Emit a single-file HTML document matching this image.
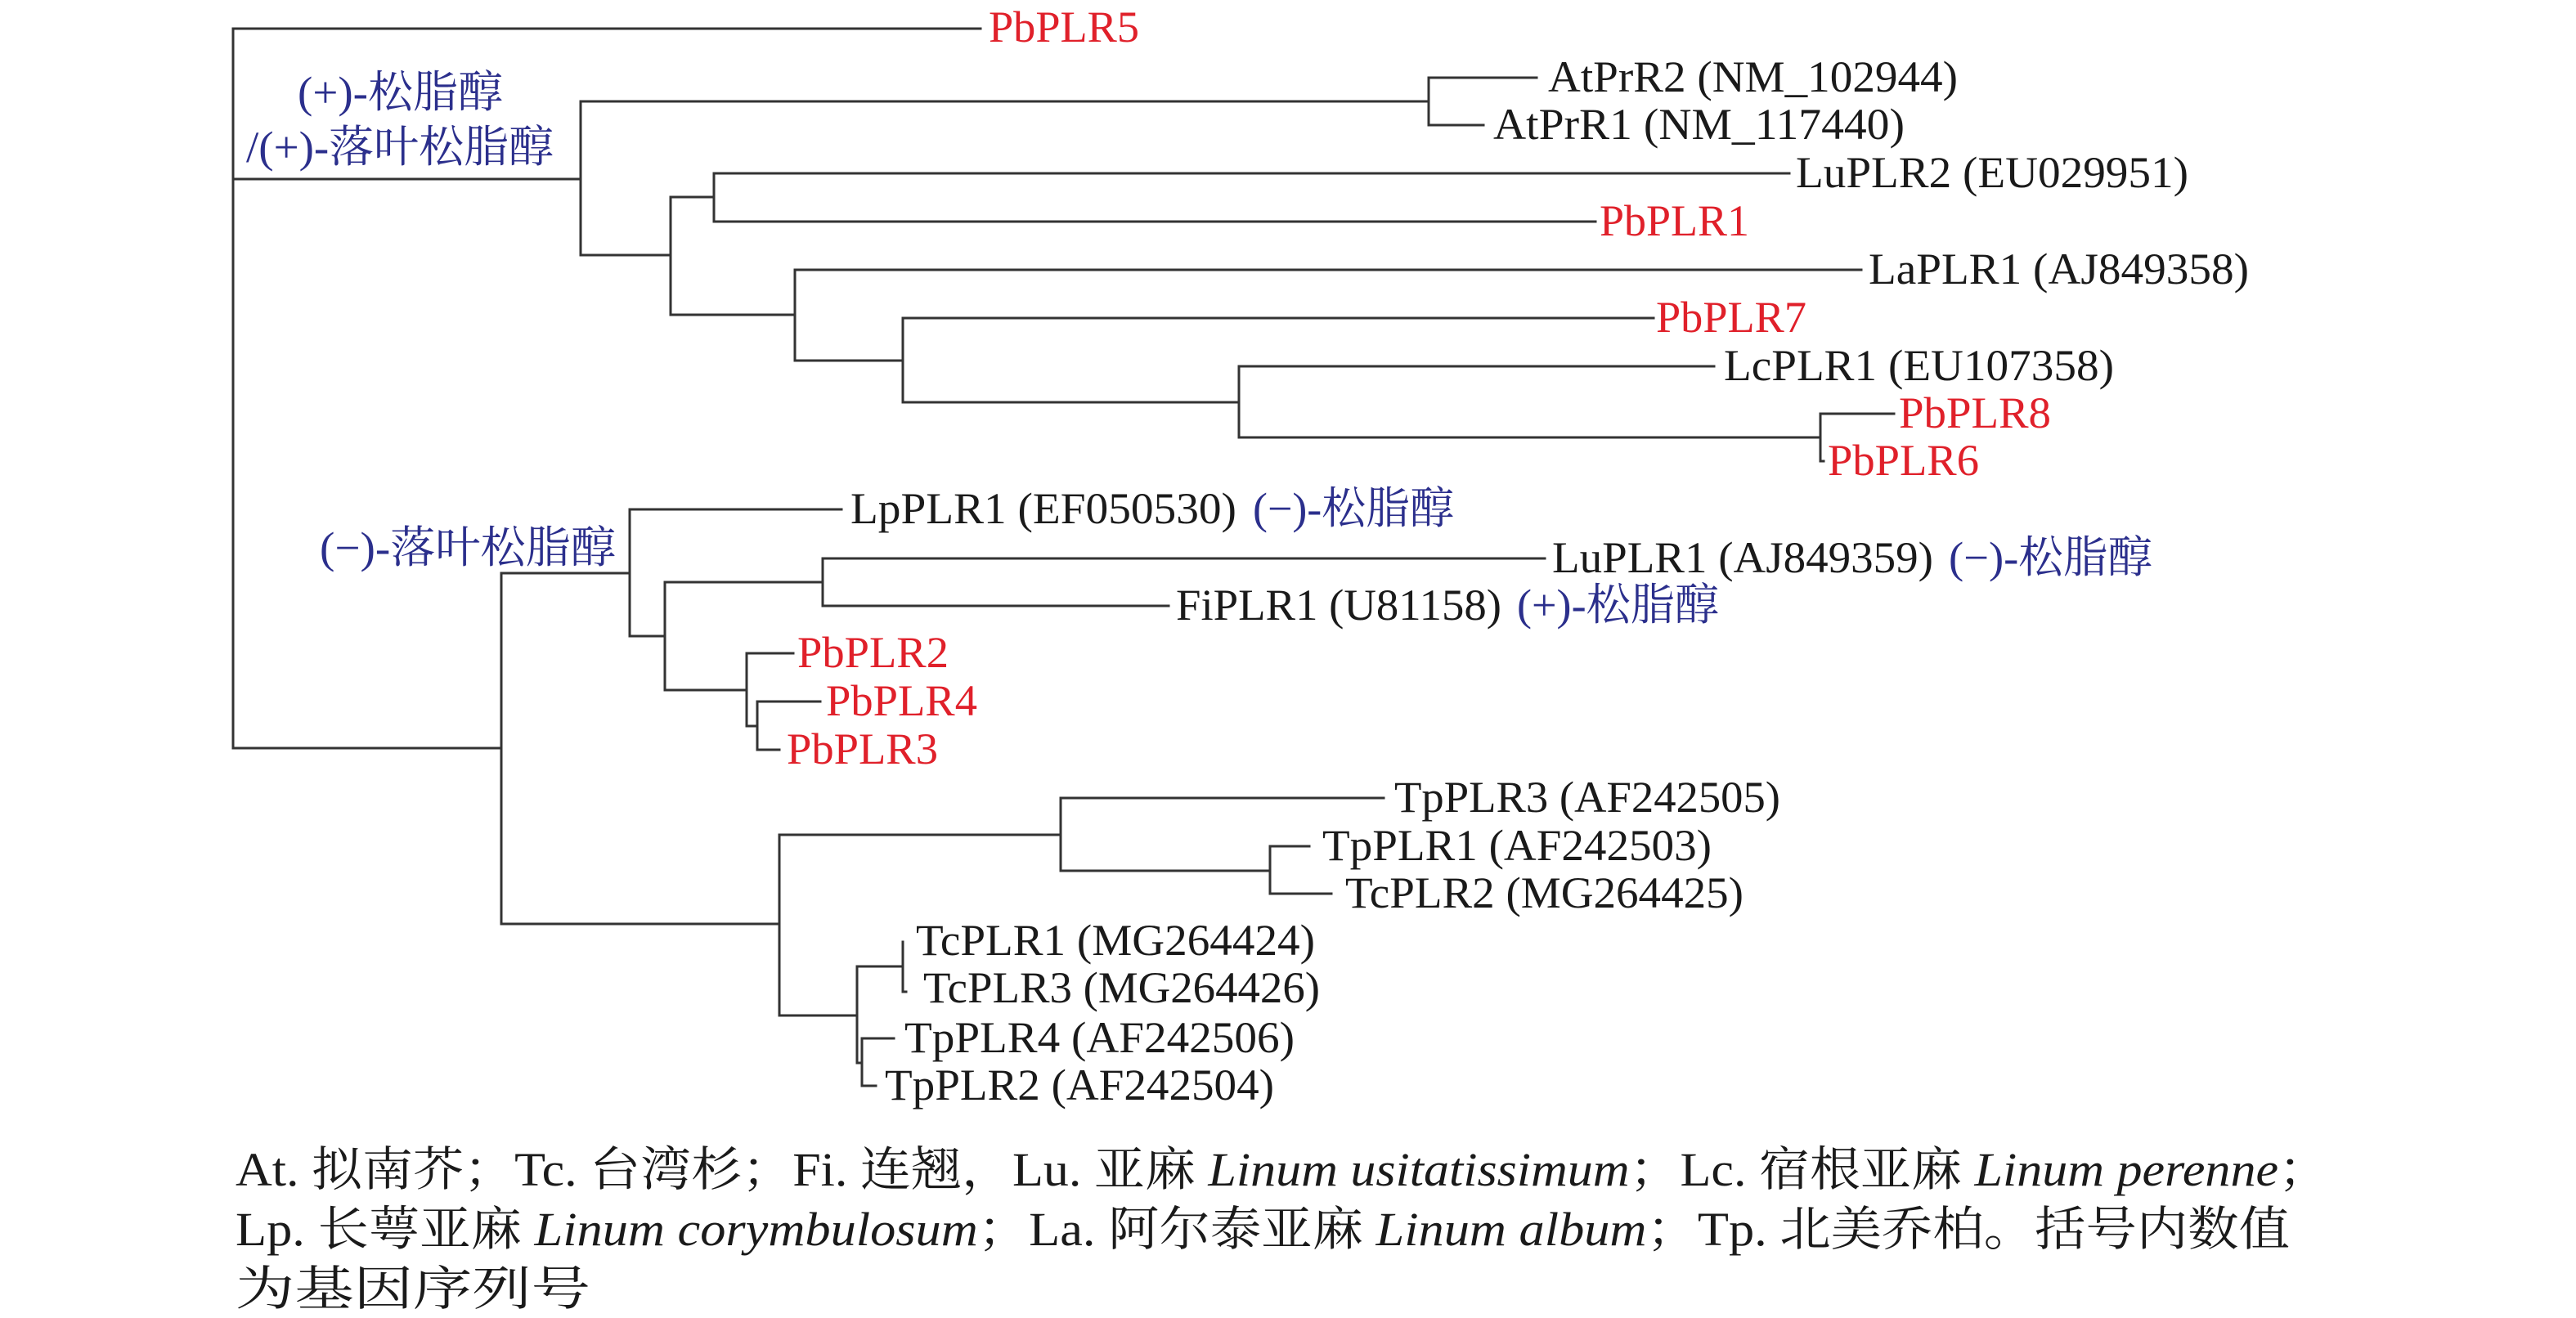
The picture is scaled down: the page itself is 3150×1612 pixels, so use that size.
<!DOCTYPE html>
<html><head><meta charset="utf-8"><style>
html,body{margin:0;padding:0;background:#fff;}
svg{display:block;}
text{font-family:"Liberation Serif","Noto Serif CJK SC","Noto Sans CJK SC",serif;font-size:54px;fill:#1a1a1a;}
.r{fill:#e0202a;}
.b{fill:#2b2f8c;}
.i{font-style:italic;}
</style></head><body>
<svg width="3150" height="1612" viewBox="0 0 3150 1612" xmlns="http://www.w3.org/2000/svg">
<g stroke="#333" stroke-width="3" fill="none" stroke-linecap="square">
<path d="M285 35V915"/>
<path d="M285 35H1199"/>
<path d="M285 219H710"/>
<path d="M710 124V312"/>
<path d="M710 124H1747"/>
<path d="M1747 95V153"/>
<path d="M1747 95H1879"/>
<path d="M1747 153H1814"/>
<path d="M710 312H820"/>
<path d="M820 241V385"/>
<path d="M820 241H873"/>
<path d="M873 212V271"/>
<path d="M873 212H2188"/>
<path d="M873 271H1951"/>
<path d="M820 385H972"/>
<path d="M972 330V441"/>
<path d="M972 330H2276"/>
<path d="M972 441H1104"/>
<path d="M1104 389V492"/>
<path d="M1104 389H2022"/>
<path d="M1104 492H1515"/>
<path d="M1515 448V535"/>
<path d="M1515 448H2096"/>
<path d="M1515 535H2226"/>
<path d="M2226 506V564"/>
<path d="M2226 506H2316"/>
<path d="M2226 564H2230"/>
<path d="M285 915H613"/>
<path d="M613 701V1130"/>
<path d="M613 701H770"/>
<path d="M770 623V778"/>
<path d="M770 623H1029"/>
<path d="M770 778H813"/>
<path d="M813 712V844"/>
<path d="M813 712H1006"/>
<path d="M1006 683V741"/>
<path d="M1006 683H1889"/>
<path d="M1006 741H1429"/>
<path d="M813 844H913"/>
<path d="M913 799V888"/>
<path d="M913 799H970"/>
<path d="M913 888H926"/>
<path d="M926 858V917"/>
<path d="M926 858H1003"/>
<path d="M926 917H953"/>
<path d="M613 1130H953"/>
<path d="M953 1021V1242"/>
<path d="M953 1021H1297"/>
<path d="M1297 976V1065"/>
<path d="M1297 976H1692"/>
<path d="M1297 1065H1553"/>
<path d="M1553 1035V1093"/>
<path d="M1553 1035H1601"/>
<path d="M1553 1093H1628"/>
<path d="M953 1242H1048"/>
<path d="M1048 1182V1300"/>
<path d="M1048 1182H1104"/>
<path d="M1104 1152V1213"/>
<path d="M1104 1213H1108"/>
<path d="M1048 1300H1054"/>
<path d="M1054 1270V1328"/>
<path d="M1054 1270H1093"/>
<path d="M1054 1328H1071"/>
</g>
<g>
<text class="r" x="1209" y="51" textLength="184" lengthAdjust="spacingAndGlyphs">PbPLR5</text>
<text x="1893" y="112" textLength="501" lengthAdjust="spacingAndGlyphs">AtPrR2 (NM_102944)</text>
<text x="1826" y="170" textLength="503" lengthAdjust="spacingAndGlyphs">AtPrR1 (NM_117440)</text>
<text x="2196" y="229" textLength="480" lengthAdjust="spacingAndGlyphs">LuPLR2 (EU029951)</text>
<text class="r" x="1956" y="288" textLength="183" lengthAdjust="spacingAndGlyphs">PbPLR1</text>
<text x="2285" y="347" textLength="465" lengthAdjust="spacingAndGlyphs">LaPLR1 (AJ849358)</text>
<text class="r" x="2025" y="406" textLength="184" lengthAdjust="spacingAndGlyphs">PbPLR7</text>
<text x="2108" y="465" textLength="477" lengthAdjust="spacingAndGlyphs">LcPLR1 (EU107358)</text>
<text class="r" x="2322" y="523" textLength="186" lengthAdjust="spacingAndGlyphs">PbPLR8</text>
<text class="r" x="2235" y="581" textLength="185" lengthAdjust="spacingAndGlyphs">PbPLR6</text>

<text class="b" x="364" y="131" textLength="251" lengthAdjust="spacingAndGlyphs">(+)-松脂醇</text>
<text class="b" x="301" y="198" textLength="376" lengthAdjust="spacingAndGlyphs">/(+)-落叶松脂醇</text>
<text class="b" x="391" y="688" textLength="362" lengthAdjust="spacingAndGlyphs">(−)-落叶松脂醇</text>

<text x="1040" y="640" textLength="472" lengthAdjust="spacingAndGlyphs">LpPLR1 (EF050530)</text>
<text class="b" x="1532" y="640" textLength="246" lengthAdjust="spacingAndGlyphs">(−)-松脂醇</text>
<text x="1898" y="700" textLength="466" lengthAdjust="spacingAndGlyphs">LuPLR1 (AJ849359)</text>
<text class="b" x="2383" y="700" textLength="249" lengthAdjust="spacingAndGlyphs">(−)-松脂醇</text>
<text x="1438" y="758" textLength="398" lengthAdjust="spacingAndGlyphs">FiPLR1 (U81158)</text>
<text class="b" x="1855" y="758" textLength="247" lengthAdjust="spacingAndGlyphs">(+)-松脂醇</text>
<text class="r" x="975" y="816" textLength="185" lengthAdjust="spacingAndGlyphs">PbPLR2</text>
<text class="r" x="1010" y="875" textLength="185" lengthAdjust="spacingAndGlyphs">PbPLR4</text>
<text class="r" x="962" y="934" textLength="185" lengthAdjust="spacingAndGlyphs">PbPLR3</text>

<text x="1705" y="993" textLength="472" lengthAdjust="spacingAndGlyphs">TpPLR3 (AF242505)</text>
<text x="1617" y="1052" textLength="476" lengthAdjust="spacingAndGlyphs">TpPLR1 (AF242503)</text>
<text x="1645" y="1110" textLength="487" lengthAdjust="spacingAndGlyphs">TcPLR2 (MG264425)</text>
<text x="1120" y="1168" textLength="488" lengthAdjust="spacingAndGlyphs">TcPLR1 (MG264424)</text>
<text x="1129" y="1226" textLength="485" lengthAdjust="spacingAndGlyphs">TcPLR3 (MG264426)</text>
<text x="1106" y="1287" textLength="477" lengthAdjust="spacingAndGlyphs">TpPLR4 (AF242506)</text>
<text x="1082" y="1345" textLength="476" lengthAdjust="spacingAndGlyphs">TpPLR2 (AF242504)</text>

<text x="288" y="1450" style="font-size:58px" textLength="2560" lengthAdjust="spacingAndGlyphs">At. 拟南芥；Tc. 台湾杉；Fi. 连翘，Lu. 亚麻 <tspan class="i">Linum usitatissimum</tspan>；Lc. 宿根亚麻 <tspan class="i">Linum perenne</tspan>；</text>
<text x="288" y="1523" style="font-size:58px" textLength="2512" lengthAdjust="spacingAndGlyphs">Lp. 长萼亚麻 <tspan class="i">Linum corymbulosum</tspan>；La. 阿尔泰亚麻 <tspan class="i">Linum album</tspan>；Tp. 北美乔柏。括号内数值</text>
<text x="288" y="1596" style="font-size:58px" textLength="434" lengthAdjust="spacingAndGlyphs">为基因序列号</text>
</g>
</svg>
</body></html>
